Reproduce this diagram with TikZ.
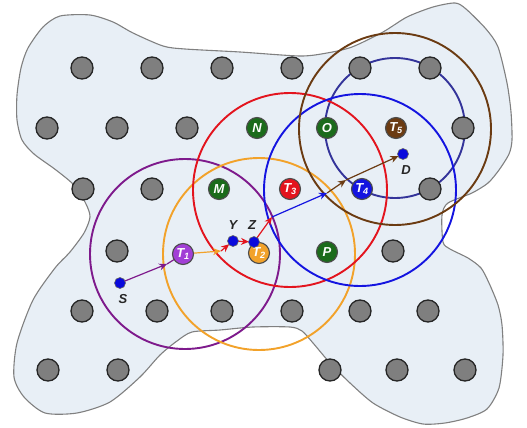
\documentclass[tikz,border=0pt]{standalone}
\usepackage{fontspec}
\setmainfont{Liberation Sans}
\usetikzlibrary{arrows.meta,calc}
\definecolor{blobfill}{HTML}{E8EFF6}
\definecolor{blobline}{HTML}{808080}
\definecolor{grayfill}{HTML}{7F7F7F}
\definecolor{cpurple}{HTML}{7E1A8C}
\definecolor{corange}{HTML}{F2A22A}
\definecolor{cred}{HTML}{E3141E}
\definecolor{cblue}{HTML}{1414E0}
\definecolor{cbrown}{HTML}{6B3B12}
\definecolor{cnavy}{HTML}{34349A}
\definecolor{cgreen}{HTML}{1B6B1B}
\definecolor{tpurple}{HTML}{A23FD6}
\definecolor{dotblue}{HTML}{0A0ADC}
\begin{document}
\begin{tikzpicture}[x=1pt,y=-1pt,
  gridnode/.style={circle,draw=black!85,line width=1.3pt,fill=grayfill,minimum size=22pt,inner sep=0pt},
  hubnode/.style={circle,draw=black!70,line width=1.1pt,minimum size=21pt,inner sep=0pt,text=white,
    font=\fontsize{13}{13}\selectfont\bfseries\itshape},
  enddot/.style={circle,draw=black!60,line width=0.6pt,fill=dotblue,minimum size=11pt,inner sep=0pt},
  lblnode/.style={font=\fontsize{13}{13}\selectfont\bfseries\itshape,text=black!85,inner sep=0pt},
  rangecirc/.style={line width=1.9pt},
  hoparrow/.style={line width=1.2pt,-{Stealth[length=8pt,width=7pt]}}]
\useasboundingbox (0,0) rectangle (527,428);
% region
\draw[fill=blobfill,draw=blobline,line width=1.1pt] plot[smooth cycle,tension=0.45] coordinates {
 (17,120) (17,95) (21,68) (28,48) (43,27) (60,16) (90,15) (113,22) (133,33) (163,46) (185,49)
 (240,52) (300,56) (327,53) (352,47) (383,32) (407,17) (433,7) (455,3) (466,9) (486,29) (498,47)
 (507,83) (511,112) (512,140) (509,154) (499,170) (488,183) (472,193) (448,203) (442,215)
 (443,242) (450,249) (468,258) (481,268) (489,283) (498,305) (502,325) (503,355) (499,388)
 (487,409) (467,418) (445,423) (423,424) (400,417) (373,403) (350,383) (330,363) (313,343)
 (302,331) (290,327) (253,327) (220,330) (192,332) (177,341) (160,355) (140,377) (110,402)
 (77,413) (45,413) (24,397) (14,377) (17,343) (33,300) (55,268) (70,252) (84,233) (90,217)
 (86,204) (75,186) (56,170) (34,154) (22,140)};
% ranges
\draw[rangecirc,cnavy] (395,128) circle[radius=70pt];
\draw[rangecirc,cpurple] (185,254) circle[radius=95pt];
\draw[rangecirc,corange] (259,254) circle[radius=96pt];
\draw[rangecirc,cred] (290,190) circle[radius=97pt];
\draw[rangecirc,cblue] (360,190) circle[radius=96pt];
\draw[rangecirc,cbrown] (395,129) circle[radius=96pt];
% grid nodes
\foreach \n/\x/\y in {a1/82/68,a2/152/68,a3/222/68,a4/292/68,a5/360/68,a6/430/68,
  b1/47/128,b2/117/128,b3/187/128,b7/463/128,
  c1/83/189,c2/152/189,c6/430/189,
  d1/117/251,d7/393/251,
  e1/82/311,e2/157/311,e3/222/311,e4/292/311,e5/360/311,e6/428/311,
  f1/48/370,f2/118/370,f5/330/370,f6/397/370,f7/465/370}
  \node[gridnode] (\n) at (\x,\y) {};
% coordinates of the route
\coordinate (S) at (120,283);
\coordinate (Y) at (233,241);
\coordinate (Z) at (254,242);
\coordinate (D) at (403,154);
\coordinate (h1) at (167,264);
\coordinate (h2) at (221,251);
\coordinate (h3) at (272,217);
\coordinate (h4) at (327,193);
\coordinate (h5) at (346,180);
\coordinate (T1c) at (183,254);
% hops
\draw[hoparrow,cpurple] (S) -- (h1);
\draw[line width=1.2pt,cpurple] (h1) -- (T1c);
\draw[hoparrow,corange] (T1c) -- (h2);
\draw[hoparrow,cred] (h2) -- ($(Y)!5pt!(h2)$);
\draw[hoparrow,cred] (Y) -- ($(Z)!5pt!(Y)$);
\draw[hoparrow,cred] (Z) -- (h3);
\draw[hoparrow,cblue] (h3) -- (h4);
\draw[hoparrow,cbrown] (h4) -- (h5);
\draw[hoparrow,cbrown] (h5) -- ($(D)!5pt!(h5)$);
% hubs
\node[hubnode,fill=cgreen] (N) at (257,128) {N};
\node[hubnode,fill=cgreen] (O) at (327,128) {O};
\node[hubnode,fill=cbrown] (T5) at (396,128) {T\textsubscript{5}};
\node[hubnode,fill=cgreen] (M) at (219,189) {M};
\node[hubnode,fill=cred] (T3) at (290,189) {T\textsubscript{3}};
\node[hubnode,fill=cblue] (T4) at (362,189) {T\textsubscript{4}};
\node[hubnode,fill=tpurple] (T1) at (183,254) {T\textsubscript{1}};
\node[hubnode,fill=corange] (T2) at (259,253) {T\textsubscript{2}};
\node[hubnode,fill=cgreen] (P) at (327,252) {P};
% end points
\node[enddot] (Sd) at (S) {};
\node[enddot] (Yd) at (Y) {};
\node[enddot] (Zd) at (Z) {};
\node[enddot] (Dd) at (D) {};
\node[lblnode] at (123,299) {S};
\node[lblnode] at (233,225) {Y};
\node[lblnode] at (252,225) {Z};
\node[lblnode] at (406,170) {D};
\end{tikzpicture}
\end{document}
